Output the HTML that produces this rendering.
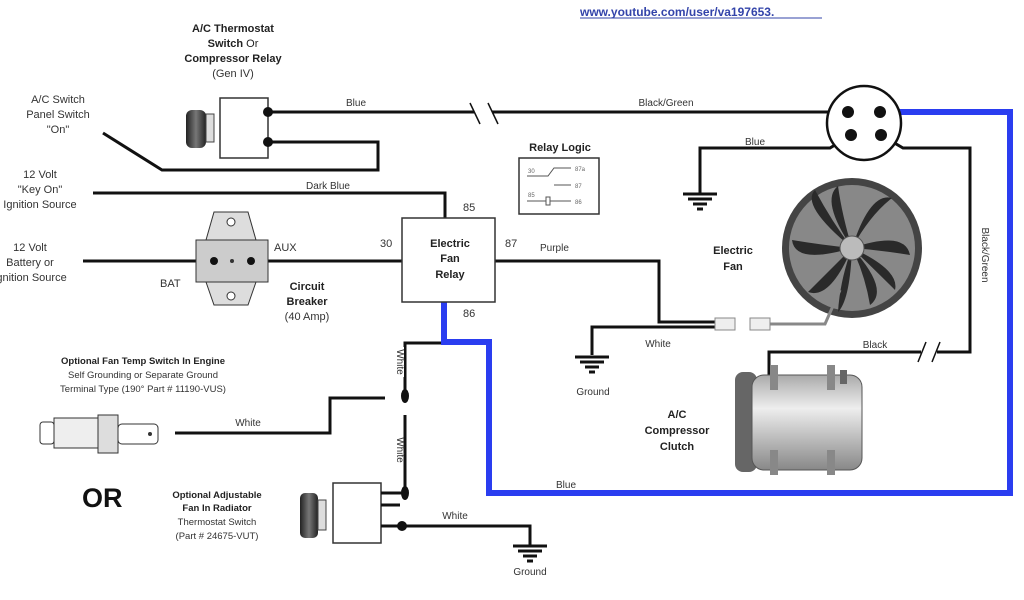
<!DOCTYPE html>
<html><head><meta charset="utf-8"><style>
html,body{margin:0;padding:0;background:#fff;}
svg{display:block;font-family:"Liberation Sans",sans-serif;}
.t{font-size:11px;fill:#333;}
.b{font-size:11px;font-weight:bold;fill:#222;}
.s{font-size:10px;fill:#333;}
</style></head><body>
<svg width="1024" height="600" viewBox="0 0 1024 600" xmlns="http://www.w3.org/2000/svg">
<defs>
<linearGradient id="cg" x1="0" y1="0" x2="0" y2="1"><stop offset="0" stop-color="#aaa"/><stop offset="0.35" stop-color="#eee"/><stop offset="1" stop-color="#888"/></linearGradient>
<linearGradient id="kg" x1="0" y1="0" x2="1" y2="0"><stop offset="0" stop-color="#222"/><stop offset="0.5" stop-color="#777"/><stop offset="1" stop-color="#222"/></linearGradient>
</defs>
<text x="580" y="16" font-size="12" font-weight="bold" fill="#3344aa">www.youtube.com/user/va197653.</text>
<line x1="580" y1="18" x2="822" y2="18" stroke="#3344aa" stroke-width="1"/>

<g text-anchor="middle">
<text x="233" y="32" class="b">A/C Thermostat</text>
<text x="233" y="47" class="b">Switch <tspan font-weight="normal">Or</tspan></text>
<text x="233" y="62" class="b">Compressor Relay</text>
<text x="233" y="77" class="t">(Gen IV)</text>
<text x="58" y="103" class="t">A/C Switch</text>
<text x="58" y="118" class="t">Panel Switch</text>
<text x="58" y="133" class="t">"On"</text>
<text x="40" y="178" class="t">12 Volt</text>
<text x="40" y="193" class="t">"Key On"</text>
<text x="40" y="208" class="t">Ignition Source</text>
<text x="30" y="251" class="t">12 Volt</text>
<text x="30" y="266" class="t">Battery or</text>
<text x="30" y="281" class="t">Ignition Source</text>
</g>
<rect x="186" y="110" width="20" height="38" rx="6" fill="url(#kg)"/>
<rect x="206" y="114" width="8" height="28" fill="#ddd" stroke="#444"/>
<rect x="220" y="98" width="48" height="60" fill="#fff" stroke="#333" stroke-width="1.5"/>
<g stroke="#111" stroke-width="3" fill="none">
<line x1="268" y1="112" x2="474" y2="112"/>
<line x1="492" y1="112" x2="848" y2="112"/>
<polyline points="268,142 378,142 378,170 162,170 103,133"/>
<polyline points="93,193 445,193 445,218"/>
<line x1="83" y1="261" x2="402" y2="261"/>
<polyline points="495,261 659,261 659,322 715,322"/>
<polyline points="851,135 830,148 700,148 700,193"/>
<polyline points="881,135 903,148 970,148 970,352 937,352"/>
<polyline points="921,352 769,352 769,395"/>
<polyline points="592,355 592,327 715,327"/>
<polyline points="175,433 330,433 330,398 385,398"/>
<polyline points="405,398 405,343 444,343"/>
<line x1="405" y1="415" x2="405" y2="493"/>
<polyline points="402,526 530,526 530,545"/>
</g>
<g stroke="#111" stroke-width="1.5"><line x1="470" y1="103" x2="480" y2="124"/><line x1="488" y1="103" x2="498" y2="124"/>
<line x1="918" y1="362" x2="926" y2="342"/><line x1="932" y1="362" x2="940" y2="342"/></g>
<circle cx="268" cy="112" r="5" fill="#111"/><circle cx="268" cy="142" r="5" fill="#111"/>
<text x="356" y="106" class="s" text-anchor="middle">Blue</text>
<text x="666" y="106" class="s" text-anchor="middle">Black/Green</text>
<text x="328" y="189" class="s" text-anchor="middle">Dark Blue</text>

<polyline points="880,112 1010,112 1010,493 489,493 489,342 444,342 444,302" stroke="#2a3df0" stroke-width="6" fill="none"/>
<text x="566" y="488" class="s" text-anchor="middle">Blue</text>

<polygon points="214,212 248,212 256,240 206,240" fill="#ddd" stroke="#333"/>
<polygon points="206,282 256,282 248,305 214,305" fill="#ddd" stroke="#333"/>
<rect x="196" y="240" width="72" height="42" fill="#ccc" stroke="#333"/>
<circle cx="231" cy="222" r="4" fill="#fff" stroke="#333"/><circle cx="231" cy="296" r="4" fill="#fff" stroke="#333"/>
<circle cx="214" cy="261" r="4" fill="#111"/><circle cx="232" cy="261" r="2" fill="#333"/><circle cx="251" cy="261" r="4" fill="#111"/>
<text x="274" y="251" class="t">AUX</text><text x="160" y="287" class="t">BAT</text>
<g text-anchor="middle"><text x="307" y="290" class="b">Circuit</text><text x="307" y="305" class="b">Breaker</text><text x="307" y="320" class="t">(40 Amp)</text></g>

<rect x="402" y="218" width="93" height="84" fill="#fff" stroke="#333" stroke-width="1.5"/>
<g text-anchor="middle"><text x="450" y="247" class="b">Electric</text><text x="450" y="262" class="b">Fan</text><text x="450" y="278" class="b">Relay</text></g>
<text x="463" y="211" class="t">85</text><text x="380" y="247" class="t">30</text><text x="505" y="247" class="t">87</text><text x="463" y="317" class="t">86</text>
<text x="540" y="251" class="s">Purple</text>

<text x="560" y="151" class="b" text-anchor="middle">Relay Logic</text>
<rect x="519" y="158" width="80" height="56" fill="#fff" stroke="#333" stroke-width="1.5"/>
<g stroke="#555" fill="none" stroke-width="1"><polyline points="527,176 548,176 554,168 571,168"/><line x1="554" y1="185" x2="571" y2="185"/><line x1="527" y1="201" x2="546" y2="201"/><rect x="546" y="197" width="4" height="8"/><line x1="550" y1="201" x2="571" y2="201"/></g>
<g font-size="6" fill="#666"><text x="528" y="173">30</text><text x="575" y="171">87a</text><text x="575" y="188">87</text><text x="528" y="197">85</text><text x="575" y="204">86</text></g>

<circle cx="864" cy="123" r="37" fill="#fff" stroke="#111" stroke-width="2.5"/>
<circle cx="848" cy="112" r="6" fill="#111"/><circle cx="880" cy="112" r="6" fill="#111"/>
<circle cx="851" cy="135" r="6" fill="#111"/><circle cx="881" cy="135" r="6" fill="#111"/>
<text x="755" y="145" class="s" text-anchor="middle">Blue</text>
<text x="982" y="255" class="s" text-anchor="middle" transform="rotate(90 982 255)">Black/Green</text>

<g stroke="#111" stroke-width="3"><line x1="683" y1="194" x2="717" y2="194"/><line x1="688" y1="199" x2="712" y2="199"/><line x1="693" y1="204" x2="707" y2="204"/><line x1="697" y1="209" x2="703" y2="209"/>
<line x1="575" y1="357" x2="609" y2="357"/><line x1="580" y1="362" x2="604" y2="362"/><line x1="585" y1="367" x2="599" y2="367"/><line x1="589" y1="372" x2="595" y2="372"/>
<line x1="513" y1="546" x2="547" y2="546"/><line x1="518" y1="551" x2="542" y2="551"/><line x1="523" y1="556" x2="537" y2="556"/><line x1="527" y1="561" x2="533" y2="561"/></g>
<text x="593" y="395" class="s" text-anchor="middle">Ground</text>
<text x="530" y="575" class="s" text-anchor="middle">Ground</text>
<text x="658" y="347" class="s" text-anchor="middle">White</text>
<text x="875" y="348" class="s" text-anchor="middle">Black</text>

<circle cx="852" cy="248" r="70" fill="#444"/>
<circle cx="852" cy="248" r="63" fill="#888"/>
<g fill="#2a2a2a"><path d="M852 248 Q820 200 838 186 Q842 215 852 248Z"/><path d="M852 248 Q870 192 892 198 Q870 215 852 248Z"/><path d="M852 248 Q905 230 910 255 Q880 250 852 248Z"/><path d="M852 248 Q890 290 870 305 Q865 275 852 248Z"/><path d="M852 248 Q830 300 808 292 Q830 270 852 248Z"/><path d="M852 248 Q795 265 792 240 Q822 245 852 248Z"/><path d="M852 248 Q800 205 815 190 Q832 222 852 248Z"/><path d="M852 248 Q900 270 895 290 Q875 270 852 248Z"/><path d="M852 248 Q850 300 838 312 Q840 280 852 248Z"/></g>
<circle cx="852" cy="248" r="12" fill="#bbb" stroke="#555"/>
<g text-anchor="middle"><text x="733" y="254" class="b">Electric</text><text x="733" y="270" class="b">Fan</text></g>
<rect x="715" y="318" width="20" height="12" fill="#eee" stroke="#888"/><rect x="750" y="318" width="20" height="12" fill="#eee" stroke="#888"/>
<polyline points="770,324 825,324 840,290" stroke="#888" stroke-width="3" fill="none"/>

<rect x="735" y="372" width="22" height="100" rx="8" fill="#666"/>
<rect x="752" y="375" width="110" height="95" rx="12" fill="url(#cg)" stroke="#555"/>
<rect x="770" y="365" width="8" height="25" fill="#888"/><rect x="827" y="365" width="8" height="25" fill="#888"/><rect x="770" y="450" width="8" height="25" fill="#888"/><rect x="827" y="450" width="8" height="25" fill="#888"/>
<rect x="840" y="370" width="7" height="14" fill="#666"/>
<g text-anchor="middle"><text x="677" y="418" class="b">A/C</text><text x="677" y="434" class="b">Compressor</text><text x="677" y="450" class="b">Clutch</text></g>

<g text-anchor="middle">
<text x="143" y="364" font-size="9.5" font-weight="bold" fill="#222">Optional Fan Temp Switch In Engine</text>
<text x="143" y="378" font-size="9.5" fill="#333">Self Grounding or Separate Ground</text>
<text x="143" y="392" font-size="9.5" fill="#333">Terminal Type (190° Part # 11190-VUS)</text>
<text x="217" y="498" font-size="9.5" font-weight="bold" fill="#222">Optional Adjustable</text>
<text x="217" y="511" font-size="9.5" font-weight="bold" fill="#222">Fan In Radiator</text>
<text x="217" y="525" font-size="9.5" fill="#333">Thermostat Switch</text>
<text x="217" y="539" font-size="9.5" fill="#333">(Part # 24675-VUT)</text>
</g>
<text x="82" y="507" font-size="27" font-weight="bold" fill="#111">OR</text>
<rect x="40" y="422" width="14" height="22" rx="3" fill="#fff" stroke="#333"/>
<rect x="54" y="418" width="44" height="30" fill="#eee" stroke="#333"/>
<rect x="98" y="415" width="20" height="38" fill="#ddd" stroke="#333"/>
<rect x="118" y="424" width="40" height="20" rx="4" fill="#fff" stroke="#333"/>
<circle cx="150" cy="434" r="2" fill="#333"/>
<text x="248" y="426" class="s" text-anchor="middle">White</text>
<ellipse cx="405" cy="396" rx="4" ry="7" fill="#111"/>
<ellipse cx="405" cy="493" rx="4" ry="7" fill="#111"/>
<rect x="392" y="347" width="12" height="30" fill="#fff"/>
<text x="397" y="362" class="s" text-anchor="middle" transform="rotate(90 397 362)">White</text>
<text x="397" y="450" class="s" text-anchor="middle" transform="rotate(90 397 450)">White</text>
<rect x="300" y="493" width="18" height="45" rx="5" fill="url(#kg)"/>
<rect x="318" y="500" width="8" height="30" fill="#ddd" stroke="#444"/>
<rect x="333" y="483" width="48" height="60" fill="#fff" stroke="#333" stroke-width="1.5"/>
<g stroke="#111" stroke-width="3"><line x1="381" y1="493" x2="405" y2="493"/><line x1="381" y1="505" x2="400" y2="505"/><line x1="381" y1="526" x2="402" y2="526"/></g>
<circle cx="402" cy="526" r="5" fill="#111"/>
<text x="455" y="519" class="s" text-anchor="middle">White</text>
</svg>
</body></html>
